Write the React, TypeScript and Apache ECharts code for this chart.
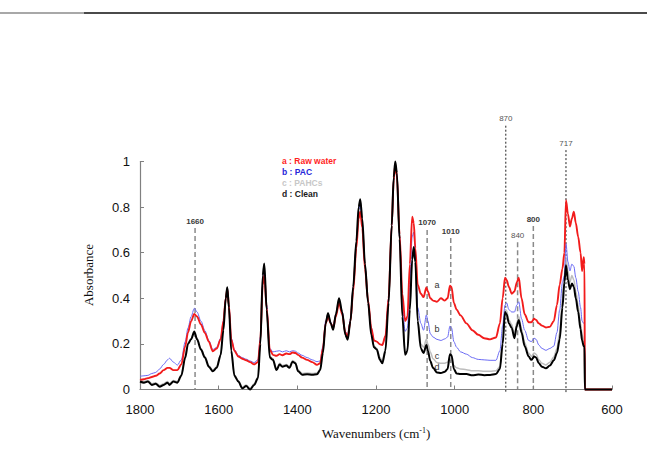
import React, { useEffect, useRef } from "react";
import * as echarts from "echarts";

// FTIR spectra, wavenumber axis runs from 1800 down to 600 cm-1
const wavenumbers = [
  1800, 1790, 1780, 1770, 1760, 1750, 1740, 1730, 1725, 1715,
  1705, 1695, 1685, 1678, 1670, 1662, 1655, 1645, 1635, 1625,
  1615, 1605, 1595, 1588, 1582, 1578, 1574, 1568, 1560, 1550,
  1540, 1530, 1520, 1510, 1500, 1494, 1488, 1484, 1478, 1470,
  1462, 1453, 1445, 1438, 1428, 1420, 1412, 1405, 1398, 1388,
  1375, 1362, 1350, 1342, 1335, 1328, 1322, 1315, 1309, 1302,
  1294, 1286, 1278, 1272, 1265, 1258, 1250, 1244, 1240, 1235,
  1228, 1220, 1212, 1205, 1198, 1190, 1184, 1176, 1168, 1160,
  1155, 1151, 1147, 1140, 1133, 1126, 1120, 1114, 1108, 1104,
  1100, 1094, 1086, 1079, 1072, 1068, 1062, 1055, 1045, 1035,
  1025, 1018, 1012, 1008, 1002, 995, 985, 970, 955, 940,
  925, 910, 895, 885, 878, 872, 868, 862, 855, 848,
  842, 837, 830, 822, 812, 805, 798, 793, 786, 778,
  768, 758, 748, 740, 733, 726, 721, 717, 712, 707,
  702, 697, 692, 686, 680, 676, 672, 670, 669, 660,
  640, 620, 600,
];

const rawWater = [
  0.042, 0.045, 0.05, 0.055, 0.06, 0.07, 0.085, 0.095, 0.095, 0.085,
  0.085, 0.11, 0.19, 0.25, 0.3, 0.331, 0.32, 0.285, 0.248, 0.21,
  0.168, 0.18, 0.22, 0.3, 0.4, 0.44, 0.37, 0.22, 0.17, 0.145,
  0.135, 0.128, 0.12, 0.11, 0.12, 0.22, 0.46, 0.5, 0.36, 0.175,
  0.152, 0.148, 0.155, 0.15, 0.158, 0.155, 0.162, 0.16, 0.152, 0.14,
  0.13, 0.12, 0.108, 0.115, 0.18, 0.29, 0.32, 0.29, 0.27, 0.32,
  0.38, 0.33, 0.25, 0.232, 0.3, 0.43, 0.62, 0.75, 0.78, 0.71,
  0.53, 0.39, 0.27, 0.215, 0.21, 0.198, 0.195, 0.235, 0.4, 0.72,
  0.92, 0.985, 0.94, 0.68, 0.42, 0.3, 0.32, 0.55, 0.758, 0.73,
  0.62, 0.46, 0.42, 0.405, 0.448, 0.43, 0.4, 0.39, 0.385, 0.4,
  0.39, 0.4, 0.455, 0.45, 0.38, 0.35, 0.325, 0.29, 0.26, 0.24,
  0.225, 0.22, 0.228, 0.29, 0.4, 0.49, 0.48, 0.45, 0.42, 0.43,
  0.47, 0.49, 0.4, 0.33, 0.295, 0.295, 0.31, 0.305, 0.29, 0.28,
  0.272, 0.275, 0.3, 0.37, 0.46, 0.53, 0.6, 0.83, 0.77, 0.715,
  0.75, 0.78, 0.73, 0.67, 0.6, 0.52, 0.58, 0.55, 0, 0,
  0, 0, 0,
];

const pac = [
  0.058, 0.06, 0.062, 0.07, 0.075, 0.09, 0.11, 0.13, 0.137, 0.12,
  0.107, 0.13, 0.21, 0.27, 0.32, 0.356, 0.34, 0.3, 0.258, 0.215,
  0.175, 0.185, 0.225, 0.3, 0.4, 0.445, 0.37, 0.225, 0.175, 0.15,
  0.14, 0.133, 0.125, 0.118, 0.13, 0.23, 0.47, 0.52, 0.37, 0.18,
  0.165, 0.168, 0.17, 0.165, 0.17, 0.165, 0.17, 0.168, 0.16, 0.15,
  0.14, 0.13, 0.122, 0.125, 0.19, 0.3, 0.33, 0.295, 0.272, 0.33,
  0.39, 0.34, 0.255, 0.238, 0.31, 0.45, 0.64, 0.79, 0.81, 0.73,
  0.54, 0.39, 0.27, 0.215, 0.21, 0.198, 0.195, 0.235, 0.4, 0.72,
  0.92, 0.99, 0.945, 0.67, 0.38, 0.255, 0.27, 0.48, 0.67, 0.69,
  0.6, 0.36, 0.29, 0.26, 0.327, 0.3, 0.245, 0.23, 0.22, 0.215,
  0.222, 0.23, 0.278, 0.27, 0.21, 0.185, 0.165, 0.155, 0.14, 0.132,
  0.13, 0.128, 0.128, 0.17, 0.28, 0.37, 0.38, 0.35, 0.34, 0.34,
  0.37, 0.385, 0.31, 0.26, 0.215, 0.21, 0.225, 0.22, 0.195, 0.18,
  0.172, 0.18, 0.19, 0.25, 0.35, 0.47, 0.5, 0.64, 0.56, 0.52,
  0.55, 0.54, 0.49, 0.43, 0.36, 0.3, 0.29, 0.29, 0, 0,
  0, 0, 0,
];

const pahcs = [
  0.04, 0.035, 0.04, 0.025, 0.03, 0.018, 0.025, 0.035, 0.025, 0.04,
  0.035, 0.065, 0.145, 0.205, 0.225, 0.258, 0.225, 0.18, 0.145, 0.105,
  0.085, 0.1, 0.155, 0.265, 0.405, 0.45, 0.365, 0.175, 0.065, 0.04,
  0.01, 0.02, 0.005, 0.025, 0.055, 0.205, 0.5, 0.55, 0.355, 0.145,
  0.135, 0.09, 0.115, 0.105, 0.11, 0.1, 0.127, 0.12, 0.085, 0.07,
  0.072, 0.07, 0.072, 0.09, 0.165, 0.29, 0.334, 0.292, 0.265, 0.332,
  0.4, 0.342, 0.243, 0.222, 0.3, 0.45, 0.65, 0.8, 0.83, 0.75,
  0.55, 0.38, 0.245, 0.19, 0.18, 0.14, 0.125, 0.18, 0.38, 0.72,
  0.93, 0.995, 0.95, 0.66, 0.33, 0.165, 0.18, 0.36, 0.57, 0.62,
  0.56, 0.31, 0.2, 0.185, 0.22, 0.2, 0.165, 0.135, 0.118, 0.115,
  0.115, 0.12, 0.138, 0.133, 0.105, 0.095, 0.09, 0.087, 0.082, 0.082,
  0.08, 0.08, 0.082, 0.1, 0.21, 0.35, 0.345, 0.305, 0.285, 0.24,
  0.295, 0.32, 0.265, 0.205, 0.16, 0.145, 0.16, 0.155, 0.13, 0.115,
  0.108, 0.12, 0.143, 0.18, 0.25, 0.4, 0.5, 0.58, 0.52, 0.47,
  0.5, 0.48, 0.43, 0.37, 0.29, 0.24, 0.21, 0.21, 0, 0,
  0, 0, 0,
];

const clean = [
  0.035, 0.03, 0.035, 0.02, 0.025, 0.012, 0.02, 0.03, 0.02, 0.035,
  0.03, 0.06, 0.14, 0.2, 0.22, 0.253, 0.22, 0.175, 0.14, 0.1,
  0.08, 0.095, 0.15, 0.26, 0.4, 0.448, 0.36, 0.17, 0.06, 0.035,
  0.005, 0.015, 0.0, 0.02, 0.05, 0.2, 0.5, 0.553, 0.35, 0.14,
  0.13, 0.085, 0.11, 0.1, 0.105, 0.095, 0.122, 0.115, 0.08, 0.065,
  0.067, 0.065, 0.067, 0.085, 0.16, 0.29, 0.334, 0.29, 0.262, 0.33,
  0.4, 0.34, 0.24, 0.218, 0.3, 0.45, 0.65, 0.8, 0.834, 0.75,
  0.55, 0.38, 0.24, 0.185, 0.175, 0.13, 0.115, 0.17, 0.38, 0.72,
  0.93, 1.0, 0.95, 0.66, 0.32, 0.152, 0.17, 0.35, 0.57, 0.625,
  0.56, 0.3, 0.18, 0.16, 0.195, 0.17, 0.125, 0.095, 0.075, 0.072,
  0.078, 0.09, 0.155, 0.15, 0.09, 0.07, 0.068, 0.068, 0.062, 0.066,
  0.063, 0.064, 0.068, 0.09, 0.2, 0.34, 0.33, 0.29, 0.27, 0.225,
  0.28, 0.305, 0.25, 0.19, 0.145, 0.13, 0.145, 0.14, 0.115, 0.1,
  0.093, 0.105, 0.128, 0.16, 0.22, 0.36, 0.47, 0.545, 0.48, 0.44,
  0.465, 0.45, 0.4, 0.34, 0.265, 0.215, 0.19, 0.19, 0, 0,
  0, 0, 0,
];

const sampleNames = ["a : Raw water", "b : PAC", "c : PAHCs", "d : Clean"];
const legendColors = ["#ff1f1f", "#2626d9", "#c8c8c8", "#1a1a1a"];

// Marked absorption bands: position, top of the guide line (absorbance units)
const bandWavenumbers = [1660, 1070, 1010, 870, 840, 800, 717];
const bandTops = [0.708, 0.7, 0.664, 1.157, 0.646, 0.717, 1.05];
const bandBoldLabel = [true, true, true, false, false, true, false];
const bandDotted = [false, false, false, true, false, false, true];

// Curve letters placed beside the 1045 cm-1 plateau
const curveLetters = ["a", "b", "c", "d"];
const letterWavenumber = 1045;
const letterLevels = [0.458, 0.265, 0.147, 0.097];

const toPairs = (ys: number[]) => wavenumbers.map((w, i) => [w, ys[i]]);

const SANS = "'Liberation Sans', Arial, sans-serif";
const SERIF = "'Liberation Serif', 'Times New Roman', serif";

export default function App() {
  const ref = useRef<HTMLDivElement>(null);

  useEffect(() => {
    if (!ref.current) return;
    const chart = echarts.init(ref.current, undefined, { renderer: "svg" });

    const line = (name: string, ys: number[], color: string, width: number) => ({
      name,
      type: "line",
      data: toPairs(ys),
      showSymbol: false,
      symbol: "none",
      smooth: 0.3,
      smoothMonotone: "x",
      clip: false,
      lineStyle: { color, width },
      itemStyle: { color },
    });

    chart.setOption({
      animation: false,
      backgroundColor: "#ffffff",
      grid: { left: 140, right: 35, top: 161.5, bottom: 81.5, containLabel: false },
      legend: {
        orient: "vertical",
        left: 277,
        top: 156,
        icon: "none",
        itemWidth: 0,
        itemHeight: 9,
        itemGap: 2,
        selectedMode: false,
        padding: 0,
        textStyle: { fontFamily: SANS, fontSize: 8.5, fontWeight: "bold" },
        data: sampleNames.map((n, i) => ({ name: n, textStyle: { color: legendColors[i] } })),
      },
      xAxis: {
        type: "value",
        min: 600,
        max: 1800,
        interval: 200,
        inverse: true,
        axisLine: { show: true, lineStyle: { color: "#808080", width: 1.2 } },
        axisTick: { show: true, inside: true, length: 4, lineStyle: { color: "#808080" } },
        axisLabel: {
          color: "#111",
          fontSize: 13,
          fontFamily: SANS,
          margin: 13,
          formatter: (v: number) => String(v),
        },
        splitLine: { show: false },
      },
      yAxis: {
        type: "value",
        min: 0,
        max: 1,
        interval: 0.2,
        axisLine: { show: true, lineStyle: { color: "#808080", width: 1.2 } },
        axisTick: { show: true, inside: true, length: 4, lineStyle: { color: "#808080" } },
        axisLabel: { color: "#111", fontSize: 13, fontFamily: SANS, margin: 10 },
        splitLine: { show: false },
      },
      series: [
        line(sampleNames[2], pahcs, "#bdbdbd", 1.5),
        line(sampleNames[1], pac, "#6a6af5", 1),
        line(sampleNames[0], rawWater, "#f21c1c", 1.9),
        line(sampleNames[3], clean, "#000000", 2),
      ],
    });

    const px = (w: number, v: number) =>
      chart.convertToPixel({ gridIndex: 0 }, [w, v]) as number[];

    const graphics: any[] = [
      // rule across the top of the page
      { type: "line", silent: true, shape: { x1: 0, y1: 13, x2: 84, y2: 13 }, style: { stroke: "#a8a8a8", lineWidth: 2 } },
      { type: "line", silent: true, shape: { x1: 84, y1: 13, x2: 647, y2: 13 }, style: { stroke: "#4a4a4a", lineWidth: 2 } },
      {
        type: "text",
        silent: true,
        x: 88,
        y: 275,
        rotation: Math.PI / 2,
        style: {
          text: "Absorbance",
          font: `13px ${SERIF}`,
          fill: "#111",
          align: "center",
          verticalAlign: "middle",
          textAlign: "center",
          textVerticalAlign: "middle",
        },
      },
      {
        type: "text",
        silent: true,
        x: 376,
        y: 433,
        style: {
          text: "Wavenumbers (cm{sup|-1})",
          font: `13px ${SERIF}`,
          fill: "#111",
          align: "center",
          verticalAlign: "middle",
          textAlign: "center",
          textVerticalAlign: "middle",
          rich: {
            sup: { font: `8px ${SERIF}`, fill: "#111", verticalAlign: "top", padding: [0, 0, 5, 0] },
          },
        },
      },
    ];

    bandWavenumbers.forEach((w, i) => {
      const bottom = px(w, 0);
      const top = px(w, bandTops[i]);
      const dotted = bandDotted[i];
      graphics.push({
        type: "line",
        silent: true,
        shape: { x1: top[0], y1: top[1], x2: bottom[0], y2: bottom[1] + (dotted ? 3 : 0) },
        style: dotted
          ? { stroke: "#222", lineWidth: 1, lineDash: [2, 2] }
          : { stroke: "#8a8a8a", lineWidth: 1.5, lineDash: [5, 3] },
      });
      graphics.push({
        type: "text",
        silent: true,
        x: top[0],
        y: top[1] - 3,
        style: {
          text: String(w),
          font: `${bandBoldLabel[i] ? "bold " : ""}8px ${SANS}`,
          fill: bandBoldLabel[i] ? "#3a3a3a" : "#555",
          align: "center",
          verticalAlign: "bottom",
          textAlign: "center",
          textVerticalAlign: "bottom",
        },
      });
    });

    curveLetters.forEach((c, i) => {
      const p = px(letterWavenumber, letterLevels[i]);
      graphics.push({
        type: "text",
        silent: true,
        x: p[0],
        y: p[1],
        style: {
          text: c,
          font: `9px ${SANS}`,
          fill: "#333",
          align: "center",
          verticalAlign: "middle",
          textAlign: "center",
          textVerticalAlign: "middle",
        },
      });
    });

    chart.setOption({ graphic: graphics });

    return () => chart.dispose();
  }, []);

  return (
    <div
      ref={ref}
      style={{ position: "fixed", left: 0, top: 0, width: 647, height: 471, background: "#fff" }}
    />
  );
}
